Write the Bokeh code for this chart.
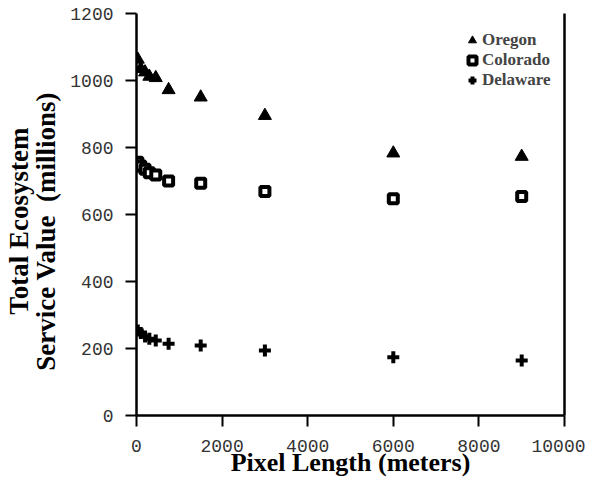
from bokeh.plotting import figure
from bokeh.models import LinearAxis, Range1d, Legend, LegendItem, FixedTicker
from bokeh.embed import file_html
from bokeh.resources import INLINE

pixel_length = [30, 100, 200, 300, 450, 750, 1500, 3000, 6000, 9000]
oregon = [1063, 1035, 1025, 1012, 1008, 972, 950, 895, 783, 773]
colorado = [756, 745, 735, 725, 718, 700, 693, 669, 647, 654]
delaware = [254, 246, 236, 229, 224, 214, 209, 194, 174, 164]

x_ticks = [0, 2000, 4000, 6000, 8000, 10000]
y_ticks = [0, 200, 400, 600, 800, 1000, 1200]

p = figure(width=585, height=481, output_backend="svg", toolbar_location=None,
           x_range=Range1d(0, 10000), y_range=Range1d(0, 1200),
           min_border_left=129, min_border_right=21, min_border_top=13, min_border_bottom=66)
p.grid.visible = False
p.outline_line_color = None
p.background_fill_color = "white"

tick_font = "Liberation Mono"
for ax in [p.xaxis[0], p.yaxis[0]]:
    ax.axis_line_width = 2.5
    ax.axis_line_color = "black"
    ax.major_tick_line_width = 2
    ax.major_tick_line_color = "black"
    ax.major_tick_out = 11
    ax.major_tick_in = 0
    ax.minor_tick_out = 0
    ax.minor_tick_in = 0
    ax.major_label_text_font = tick_font
    ax.major_label_text_font_size = "18px"
    ax.major_label_text_color = "#333333"
    ax.axis_label_text_font = "Liberation Serif"
    ax.axis_label_text_font_style = "bold"
    ax.axis_label_text_color = "black"

p.xaxis[0].axis_label_text_font_size = "26px"
p.yaxis[0].axis_label_text_font_size = "27px"
p.xaxis[0].ticker = FixedTicker(ticks=x_ticks)
p.yaxis[0].ticker = FixedTicker(ticks=y_ticks)
p.xaxis[0].major_label_standoff = 13
p.yaxis[0].major_label_standoff = 12
p.xaxis[0].axis_label = "Pixel Length (meters)"
p.xaxis[0].axis_label_standoff = -7
p.yaxis[0].axis_label = ("Total Ecosystem\u00a0\u00a0\n"
                         "Service Value\u00a0\u00a0(millions)\u00a0\u00a0\u00a0\u00a0\u00a0")
p.yaxis[0].axis_label_standoff = 6
p.yaxis[0].axis_label_text_line_height = 0.92

right = LinearAxis(ticker=FixedTicker(ticks=[]), axis_line_width=2.5,
                   major_label_text_font_size="0px", major_tick_out=0, minor_tick_out=0)
p.add_layout(right, "right")

r_or = p.scatter(pixel_length, oregon, marker="triangle", size=13,
                 fill_color="black", line_color="black")
r_co = p.scatter(pixel_length, colorado, marker="square", size=9,
                 fill_color="white", line_color="black", line_width=4)
r_de = p.scatter(pixel_length, delaware, marker="cross", size=12,
                 line_color="black", line_width=4)

legend = Legend(items=[LegendItem(label="Oregon", renderers=[r_or]),
                       LegendItem(label="Colorado", renderers=[r_co]),
                       LegendItem(label="Delaware", renderers=[r_de])],
                location=(326, 325), padding=0, margin=0, spacing=0,
                glyph_width=20, glyph_height=20, label_standoff=0,
                border_line_color=None, background_fill_alpha=0,
                label_text_font="Liberation Serif", label_text_font_style="bold",
                label_text_font_size="17px", label_height=20)
p.add_layout(legend, "center")

open("out.html", "w").write(file_html(p, INLINE))
